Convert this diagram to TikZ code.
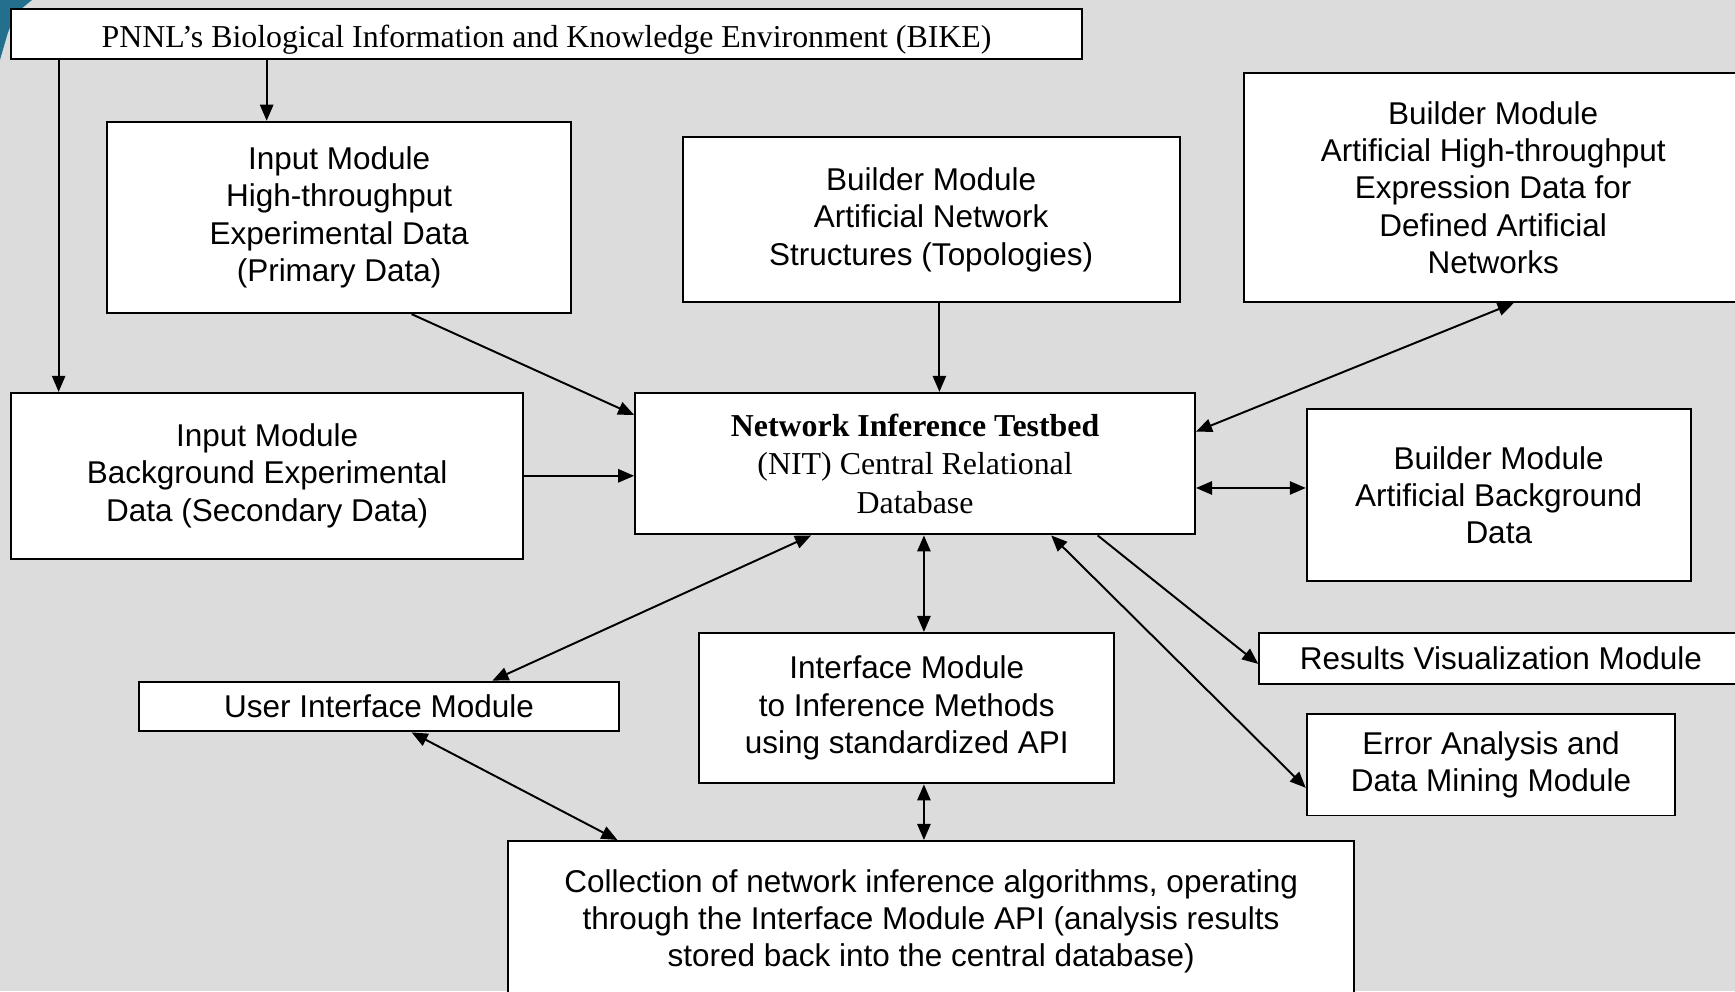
\documentclass[tikz,border=0pt]{standalone}
\usepackage{fontspec}
\setmainfont{Liberation Sans}
\newfontfamily\timesrm{Liberation Serif}
\usetikzlibrary{arrows.meta,calc,positioning}
\definecolor{Canvas}{HTML}{DCDCDC}
\definecolor{Ink}{HTML}{000000}
\definecolor{Teal}{HTML}{236F8E}

\begin{document}
\begin{tikzpicture}[x=0.1mm,y=-0.1mm,>={Triangle[length=1.45mm,width=1.2mm]},
    modbox/.style={draw=Ink, line width=0.5pt, fill=white, inner sep=0pt, align=center,
      font=\fontsize{8.1}{9.6}\selectfont},
    serifbox/.style={modbox, font=\timesrm\fontsize{8.2}{9.9}\selectfont},
    arr/.style={->, line width=0.5pt},
    dbl/.style={<->, line width=0.5pt}]
    \useasboundingbox (0,0) rectangle (1568,896);
    \clip (0,0) rectangle (1568,896);
    \fill[Canvas] (0,0) rectangle (1568,896);
    % corner of the slide picture
    \fill[Teal] (0,0) -- (29,0) .. controls (14,12) .. (7,30) -- (0,54) -- cycle;

    % top row
    \node[serifbox, minimum width=96.8mm, minimum height=4.5mm, text height=2.5mm, text depth=0mm] (bike) at (494,30.5)
      {PNNL’s Biological Information and Knowledge Environment (BIKE)};
    \node[modbox, minimum width=41.9mm, minimum height=17.3mm] (inhigh) at (306.5,196.5)
      {Input Module\\High-throughput\\Experimental Data\\(Primary Data)};
    \node[modbox, minimum width=44.9mm, minimum height=14.9mm] (bnet) at (841.5,198.5)
      {Builder Module\\Artificial Network\\Structures (Topologies)};
    \node[modbox, minimum width=45.1mm, minimum height=20.7mm] (bexpr) at (1349.5,169.5)
      {Builder Module\\Artificial High-throughput\\Expression Data for\\Defined Artificial\\Networks};

    % middle row
    \node[modbox, minimum width=46.3mm, minimum height=15mm] (inback) at (241.5,430)
      {Input Module\\Background Experimental\\Data (Secondary Data)};
    \node[serifbox, minimum width=50.6mm, minimum height=12.8mm] (nit) at (827,419)
      {\textbf{Network Inference Testbed}\\(NIT) Central Relational\\Database};
    \node[modbox, minimum width=34.7mm, minimum height=15.5mm] (bback) at (1354.5,447.5)
      {Builder Module\\Artificial Background\\Data};

    % lower row
    \node[modbox, minimum width=43.7mm, minimum height=4.6mm] (resvis) at (1356.5,595)
      {Results Visualization Module};
    \node[modbox, minimum width=43.3mm, minimum height=4.5mm] (uim) at (342.5,638.5)
      {User Interface Module};
    \node[modbox, minimum width=37.5mm, minimum height=13.6mm] (iface) at (819.5,640)
      {Interface Module\\to Inference Methods\\using standardized API};
    \node[modbox, minimum width=33.3mm, minimum height=9.2mm] (err) at (1347.5,691)
      {Error Analysis and\\Data Mining Module};
    \node[modbox, minimum width=76.5mm, minimum height=14.5mm] (coll) at (841.5,832.5)
      {Collection of network inference algorithms, operating\\through the Interface Module API (analysis results\\stored back into the central database)};

    % connectors
    \draw[arr] ([xshift=-6.55mm]inhigh.north |- bike.south) -- ([xshift=-6.55mm]inhigh.north);
    \draw[arr] ([xshift=-18.85mm]inback.north |- bike.south) -- ([xshift=-18.85mm]inback.north);
    \draw[arr] ([xshift=6.55mm]inhigh.south) -- ([yshift=4.4mm]nit.west);
    \draw[arr] ([xshift=0.75mm]bnet.south) -- ([xshift=0.75mm]bnet.south |- nit.north);
    \draw[dbl] ([yshift=2.9mm]nit.east) -- ([xshift=1.85mm]bexpr.south);
    \draw[arr] (inback.east) -- (inback.east -| nit.west);
    \draw[dbl] ([yshift=-2.2mm]nit.east) -- ([yshift=-2.2mm]nit.east -| bback.west);
    \draw[dbl] ([xshift=-9.4mm]nit.south) -- ([xshift=10.25mm]uim.north);
    \draw[dbl] ([xshift=0.8mm]nit.south) -- ([xshift=0.8mm]nit.south |- iface.north);
    \draw[dbl] ([xshift=12.3mm]nit.south) -- ([yshift=-2.1mm]err.west);
    \draw[arr] ([xshift=16.5mm]nit.south) -- ([yshift=-0.5mm]resvis.west);
    \draw[dbl] ([xshift=2.95mm]uim.south) -- ([xshift=-28.35mm]coll.north);
    \draw[dbl] ([xshift=1.55mm]iface.south) -- ([xshift=1.55mm]iface.south |- coll.north);
  \end{tikzpicture}
\end{document}
